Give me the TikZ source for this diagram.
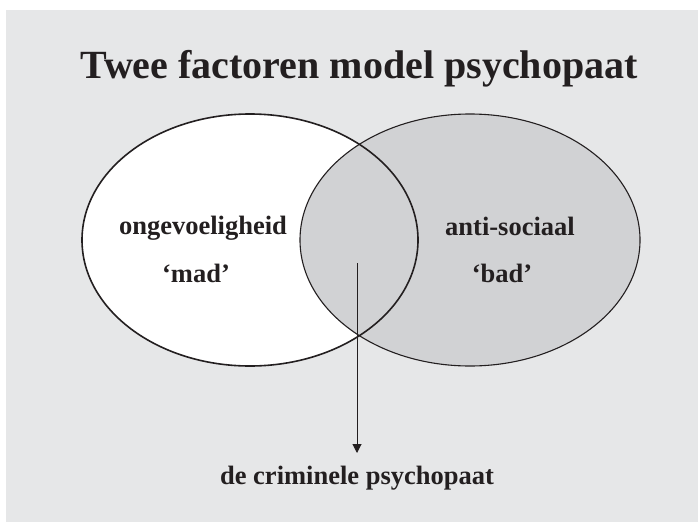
\documentclass[tikz,border=0pt]{standalone}
\usepackage{fontspec}
\setmainfont{Liberation Serif}
\usetikzlibrary{arrows.meta}
\definecolor{bggray}{HTML}{E6E7E8}
\definecolor{ellgray}{HTML}{D1D2D4}
\definecolor{ink}{HTML}{231F20}
\tikzset{
  lbl/.style={anchor=base, inner sep=0pt, text=ink, font=\fontsize{26.5}{30}\selectfont\bfseries},
  ttl/.style={anchor=base, inner sep=0pt, text=ink, font=\fontsize{40}{48}\selectfont\bfseries},
  outl/.style={draw=ink},
  arr/.style={draw=ink, line width=1pt, -{Triangle[width=9pt,length=9pt]}}
}
\begin{document}
\begin{tikzpicture}[x=1pt,y=-1pt]
\useasboundingbox (0,0) rectangle (698,522);
\fill[white] (0,0) rectangle (698,522);
\fill[bggray] (6,10) rectangle (698,522);
% ellipses
\fill[ellgray] (470,240) ellipse [x radius=170pt, y radius=126pt];
\fill[white] (250,240) ellipse [x radius=168pt, y radius=126pt];
\begin{scope}
  \clip (470,240) ellipse [x radius=170pt, y radius=126pt];
  \fill[ellgray] (250,240) ellipse [x radius=168pt, y radius=126pt];
\end{scope}
\draw[outl, line width=1.6pt] (250,240) ellipse [x radius=168pt, y radius=126pt];
\draw[outl, line width=1.1pt] (470,240) ellipse [x radius=170pt, y radius=126pt];
% texts
\node[ttl] (title) at (359,78) {Twee factoren model psychopaat};
\node[lbl] (ong) at (203,234) {ongevoeligheid};
\node[lbl] (mad) at (196,282) {‘mad’};
\node[lbl] (anti) at (510,235) {anti-sociaal};
\node[lbl] (bad) at (502,282) {‘bad’};
\node[lbl] (crim) at (357,484) {de criminele psychopaat};
% arrow
\coordinate (src) at (357,263);
\coordinate (tip) at (357,453);
\draw[arr] (src) -- (tip);
\end{tikzpicture}
\end{document}
